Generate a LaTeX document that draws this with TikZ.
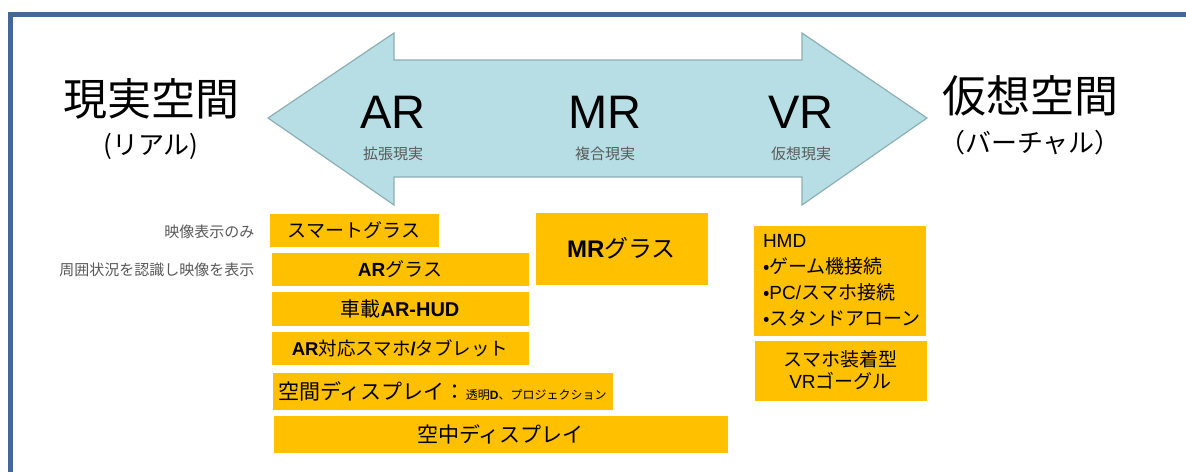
\documentclass[tikz,border=0pt]{standalone}
\usepackage{fontspec}
\setmainfont{Noto Sans CJK JP}
\newfontfamily\arial{Liberation Sans}
\definecolor{framecol}{RGB}{68,103,150}
\definecolor{arrowfill}{RGB}{183,222,228}
\definecolor{arrowline}{RGB}{140,176,180}
\definecolor{boxfill}{RGB}{255,192,0}
\definecolor{notegray}{RGB}{89,89,89}
\newcommand{\pxsize}[1]{\fontsize{#1}{#1}\selectfont}

\begin{document}
\begin{tikzpicture}[x=1pt,y=-1pt,node distance=39.5pt,
			orange node/.style={rectangle,fill=boxfill,draw=white,line width=0.8pt,inner sep=0pt,font=\pxsize{19}},
			side note/.style={anchor=east,text=notegray,font=\pxsize{15}},
			big title/.style={font=\pxsize{44}},
			sub title/.style={font=\pxsize{26}},
			kind node/.style={font=\arial\pxsize{47}},
			kind sub/.style={text=notegray,font=\pxsize{15}}]
			
			\fill[white] (0,0) rectangle (1186,472);
			\useasboundingbox (0,0) rectangle (1186,472);
			\draw[framecol,line width=4.5pt] (10.5,472) -- (10.5,14.5) -- (1186,14.5);
			
			% double arrow
			\draw[fill=arrowfill,draw=arrowline,line width=1.2pt]
			(268,118) -- (394,33) -- (394,60) -- (802,60) -- (802,33) -- (927,118)
			-- (802,205) -- (802,177) -- (394,177) -- (394,205) -- cycle;
			
			\node[kind node] (AR) at (393,112) {AR};
			\node[kind sub] (ARsub) at (393,154) {拡張現実};
			\node[kind node] (MR) at (605,112) {MR};
			\node[kind sub] (MRsub) at (605,154) {複合現実};
			\node[kind node] (VR) at (801,112) {VR};
			\node[kind sub] (VRsub) at (801,154) {仮想現実};
			
			\node[big title] (Real) at (151,99) {現実空間};
			\node[sub title] (RealSub) at (151,146) {(リアル)};
			\node[big title] (Virtual) at (1030,96) {仮想空間};
			\node[sub title] (VirtualSub) at (1030,143) {（バーチャル）};
			
			% AR devices
			\node[orange node,minimum width=170pt,minimum height=34pt] (SmartGlass) at (354,230) {スマートグラス};
			\node[orange node,minimum width=258pt,minimum height=34pt] (ARGlass) at (400,269) {{\arial\bfseries AR}グラス};
			\node[orange node,minimum width=258pt,minimum height=35pt,font=\pxsize{20}] (HUD) [below of=ARGlass] {車載{\arial\bfseries AR-HUD}};
			\node[orange node,minimum width=258pt,minimum height=34pt,font=\pxsize{18.5}] (Phone) [below of=HUD] {{\arial\bfseries AR}対応スマホ{\arial\bfseries /}タブレット};
			\node[orange node,minimum width=341pt,minimum height=38pt] (Spatial) at (442.5,391) {{\pxsize{21}空間ディスプレイ：}{\pxsize{12}透明{\arial\bfseries D}、プロジェクション}};
			\node[orange node,minimum width=455pt,minimum height=38pt,font=\pxsize{21}] (Aerial) at (500.5,434) {空中ディスプレイ};
			
			\node[side note] (OnlyImage) at (258,232) {映像表示のみ};
			\node[side note] (Recognize) at (258,270) {周囲状況を認識し映像を表示};
			
			% MR and VR devices
			\node[orange node,minimum width=173pt,minimum height=73pt,font=\pxsize{24}] (MRGlass) at (621.5,248.5) {{\arial\bfseries MR}グラス};
			\node[orange node,minimum width=173pt,minimum height=111pt,align=left,text width=153pt,font=\fontsize{19}{26}\selectfont] (HMD) at (839.5,280.5) {{\arial HMD}\\•ゲーム機接続\\•{\arial PC/}スマホ接続\\•スタンドアローン};
			\node[orange node,minimum width=173pt,minimum height=61pt,align=center,font=\fontsize{19}{22}\selectfont] (Goggle) at (840.5,370.5) {スマホ装着型\\{\arial VR}ゴーグル};
			\end{tikzpicture}
\end{document}
